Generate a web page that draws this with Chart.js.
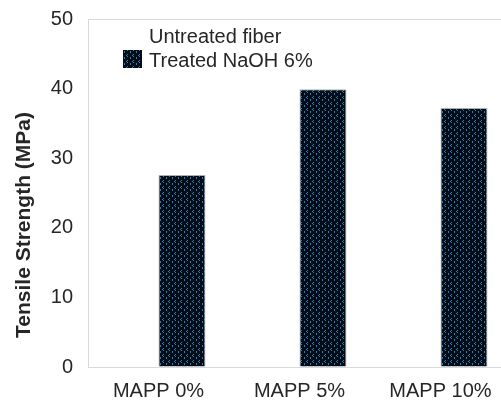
<!DOCTYPE html>
<html><head><meta charset="utf-8">
<script src="https://cdn.jsdelivr.net/npm/chart.js@4"></script>
<style>html,body{margin:0;padding:0;background:#fff;overflow:hidden;width:501px;height:401px}canvas{display:block}</style>
</head><body>
<canvas id="c" width="511" height="401"></canvas>
<script>
const categories = ['MAPP 0%', 'MAPP 5%', 'MAPP 10%'];
const seriesNames = ['Untreated fiber', 'Treated NaOH 6%'];
const untreatedValues = [null, null, null];
const treatedValues = [27.6, 39.9, 37.2];
const yTicks = [0, 10, 20, 30, 40, 50];
const yTitle = 'Tensile Strength (MPa)';

const canvas = document.getElementById('c');
const mainCtx = canvas.getContext('2d');

function makePattern() {
  const t = document.createElement('canvas');
  t.width = 6; t.height = 6;
  const g = t.getContext('2d');
  g.fillStyle = '#020b16';
  g.fillRect(0, 0, 6, 6);
  g.fillStyle = '#1d86b6';
  [[1,0],[0,1],[1,2],[4,3],[4,4]].forEach(([x, y]) => g.fillRect(x, y, 1, 1));
  return mainCtx.createPattern(t, 'repeat');
}
const pattern = makePattern();

const FONT = "'Liberation Sans', Arial, sans-serif";
const TEXT = '#262626';
const LINE = '#d9d9d9';

const insideLegend = {
  id: 'insideLegend',
  afterDatasetsDraw(chart) {
    const {ctx, chartArea} = chart;
    const swX = chartArea.left + 35, txX = chartArea.left + 61;
    const base0 = chartArea.top + 24, rowH = 24;
    ctx.save();
    ctx.font = '20px ' + FONT;
    ctx.textAlign = 'left';
    ctx.textBaseline = 'alphabetic';
    chart.data.datasets.forEach((ds, i) => {
      const base = base0 + i * rowH;
      ctx.fillStyle = ds.backgroundColor;
      ctx.fillRect(swX, base - 17, 19, 18);
      ctx.fillStyle = TEXT;
      ctx.fillText(ds.label, txX, base);
    });
    ctx.restore();
  }
};

const yTitlePlugin = {
  id: 'yTitlePlugin',
  afterDraw(chart) {
    const {ctx, chartArea} = chart;
    ctx.save();
    ctx.translate(30, chartArea.top + 206);
    ctx.rotate(-Math.PI / 2);
    ctx.font = 'bold 21px ' + FONT;
    ctx.fillStyle = TEXT;
    ctx.textAlign = 'center';
    ctx.textBaseline = 'alphabetic';
    ctx.fillText(yTitle, 0, 0);
    ctx.restore();
  }
};

new Chart(canvas, {
  type: 'bar',
  data: {
    labels: categories,
    datasets: [
      { label: seriesNames[0], data: untreatedValues, backgroundColor: '#ffffff', borderWidth: 0 },
      { label: seriesNames[1], data: treatedValues, backgroundColor: pattern,
        borderColor: 'rgba(140,140,140,0.7)', borderWidth: 1 }
    ]
  },
  options: {
    responsive: false,
    devicePixelRatio: 1,
    animation: false,
    categoryPercentage: 0.6667,
    barPercentage: 1,
    layout: { padding: { left: 0, top: 19, right: 0, bottom: 0 } },
    plugins: { legend: { display: false }, tooltip: { enabled: false } },
    scales: {
      x: {
        offset: true,
        grid: { display: false, drawTicks: false },
        border: { display: true, color: LINE, width: 1 },
        ticks: { color: TEXT, font: { family: FONT, size: 20 }, padding: 12, maxRotation: 0, autoSkip: false },
        afterFit: s => { s.height = 34; }
      },
      y: {
        min: 0, max: 50,
        afterBuildTicks: s => { s.ticks = yTicks.map(v => ({ value: v })); },
        grid: { drawTicks: false, color: c => (c.tick && c.tick.value === 50) ? LINE : 'rgba(0,0,0,0)' },
        border: { display: true, color: LINE, width: 1 },
        ticks: { color: TEXT, font: { family: FONT, size: 20 }, padding: 15 },
        afterFit: s => { s.width = 88; s.paddingTop = 0; s.paddingBottom = 0; }
      }
    }
  },
  plugins: [insideLegend, yTitlePlugin]
});
</script>
</body></html>
